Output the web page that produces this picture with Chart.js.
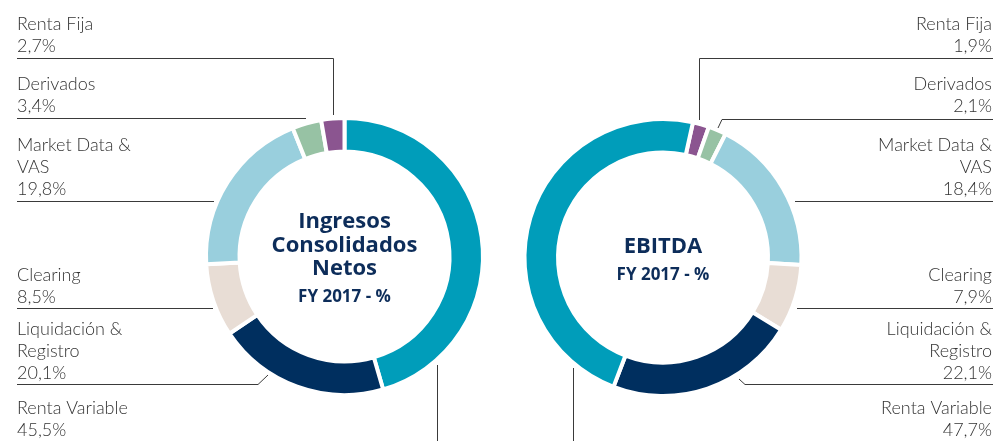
<!DOCTYPE html>
<html>
<head>
<meta charset="utf-8">
<script src="https://cdn.jsdelivr.net/npm/chart.js@4.4.0/dist/chart.umd.min.js"></script>
<style>
    html, body { margin: 0; padding: 0; background: #fff; }
    #wrap { position: relative; width: 993px; height: 441px; overflow: hidden; }
    .half { position: absolute; top: 0; height: 441px; }
    #left { left: 0; width: 496px; }
    #right { left: 496px; width: 497px; }
</style>
</head>
<body>
<div id="wrap">
    <div class="half" id="left"><canvas id="ingresos" width="496" height="441"></canvas></div>
    <div class="half" id="right"><canvas id="ebitda" width="497" height="441"></canvas></div>
</div>
<script>
// Data (same category order for both rings)
const categories = ['Renta Variable', 'Liquidación & Registro', 'Clearing', 'Market Data & VAS', 'Derivados', 'Renta Fija'];
const ingresosValues = [45.5, 20.1, 8.5, 19.8, 3.4, 2.7];
const ebitdaValues = [47.7, 22.1, 7.9, 18.4, 2.1, 1.9];
const segmentColors = ['#009dba', '#002f5f', '#e8ddd5', '#99cfdd', '#97c2a4', '#8b5590'];
const ingresosTitle = ['Ingresos', 'Consolidados', 'Netos'];
const ebitdaTitle = ['EBITDA'];
const periodLabel = 'FY 2017 - %';

// Label placement: baseline of last text line + leader path (page coords), same order as categories
const leftLabels = [
    { base: 436, path: [[437.5, 365], [437.5, 441]] },
    { base: 379, path: [[17, 384.5], [258, 384.5], [268, 375]] },
    { base: 303, path: [[17, 308.5], [213, 308.5]] },
    { base: 195, path: [[17, 201.5], [214, 201.5]] },
    { base: 112, path: [[17, 118.5], [306, 118.5]] },
    { base: 52, path: [[17, 58.5], [333.5, 58.5], [333.5, 115]] }
];
const rightLabels = [
    { base: 436, path: [[573.5, 368], [573.5, 441]] },
    { base: 379, path: [[993, 384.5], [745, 384.5], [739, 379]] },
    { base: 303, path: [[993, 308.5], [797, 308.5]] },
    { base: 195, path: [[993, 201.5], [795, 201.5]] },
    { base: 112, path: [[993, 119.5], [722, 119.5], [718, 128]] },
    { base: 52, path: [[993, 58.5], [699.5, 58.5], [699.5, 120]] }
];

function fmt(v) {
    return v.toFixed(1).replace('.', ',') + '%';
}

function nameLines(name) {
    const i = name.indexOf(' & ');
    if (i < 0) return [name];
    return [name.slice(0, i + 2), name.slice(i + 3)];
}

const sideLabels = {
    id: 'sideLabels',
    afterDraw(chart, args, opts) {
        const ctx = chart.ctx;
        const names = chart.data.labels;
        const values = chart.data.datasets[0].data;
        ctx.save();
        ctx.font = '300 18px Lato';
        ctx.fillStyle = '#333333';
        ctx.textBaseline = 'alphabetic';
        ctx.textAlign = opts.align;
        names.forEach((name, i) => {
            const lay = opts.layout[i];
            const lines = nameLines(name).concat([fmt(values[i])]);
            lines.forEach((t, k) => {
                const y = lay.base - (lines.length - 1 - k) * 22;
                ctx.fillText(t, opts.textX - opts.offsetX, y);
            });
            ctx.beginPath();
            lay.path.forEach((p, k) => {
                const x = p[0] - opts.offsetX;
                if (k === 0) ctx.moveTo(x, p[1]); else ctx.lineTo(x, p[1]);
            });
            ctx.strokeStyle = '#3a3a3a';
            ctx.lineWidth = 1;
            ctx.stroke();
        });
        ctx.restore();
    }
};

const centerText = {
    id: 'centerText',
    afterDraw(chart, args, opts) {
        const arc = chart.getDatasetMeta(0).data[0];
        const ctx = chart.ctx;
        ctx.save();
        ctx.fillStyle = '#0d2d5a';
        ctx.textAlign = 'center';
        ctx.textBaseline = 'alphabetic';
        ctx.font = 'bold 22px "Open Sans"';
        opts.title.forEach((t, k) => {
            ctx.fillText(t, arc.x, arc.y + opts.top + k * 23.5);
        });
        ctx.font = 'bold 17px "Open Sans"';
        ctx.fillText(periodLabel, arc.x, arc.y + opts.top + (opts.title.length - 1) * 23.5 + 27);
        ctx.restore();
    }
};

function ringChart(id, names, values, colors, rotation, padding, labelOpts, title, top) {
    return new Chart(document.getElementById(id), {
        type: 'doughnut',
        data: {
            labels: names,
            datasets: [{
                data: values,
                backgroundColor: colors,
                borderColor: '#ffffff',
                borderWidth: 4,
                radius: 138.5,
                hoverOffset: 0
            }]
        },
        options: {
            responsive: false,
            devicePixelRatio: 1,
            animation: false,
            cutout: '75.8%',
            rotation: rotation,
            layout: { padding: padding },
            events: [],
            plugins: {
                legend: { display: false },
                tooltip: { enabled: false },
                sideLabels: labelOpts,
                centerText: { title: title, top: top }
            }
        },
        plugins: [sideLabels, centerText]
    });
}

// Left ring: clockwise from 12 o'clock
ringChart('ingresos', categories, ingresosValues, segmentColors, 0,
    { left: 204.5, right: 11.5, top: 116.5, bottom: 44.5 },
    { align: 'left', textX: 17, offsetX: 0, layout: leftLabels },
    ingresosTitle, -28.5);

// Right ring: mirrored order, Renta Fija first just past 12 o'clock
const rev = a => a.slice().reverse();
ringChart('ebitda', rev(categories), rev(ebitdaValues), rev(segmentColors), 12.5,
    { left: 27, right: 190, top: 117.5, bottom: 43.5 },
    { align: 'right', textX: 992, offsetX: 496, layout: rev(rightLabels) },
    ebitdaTitle, -4.5);
</script>
</body>
</html>
